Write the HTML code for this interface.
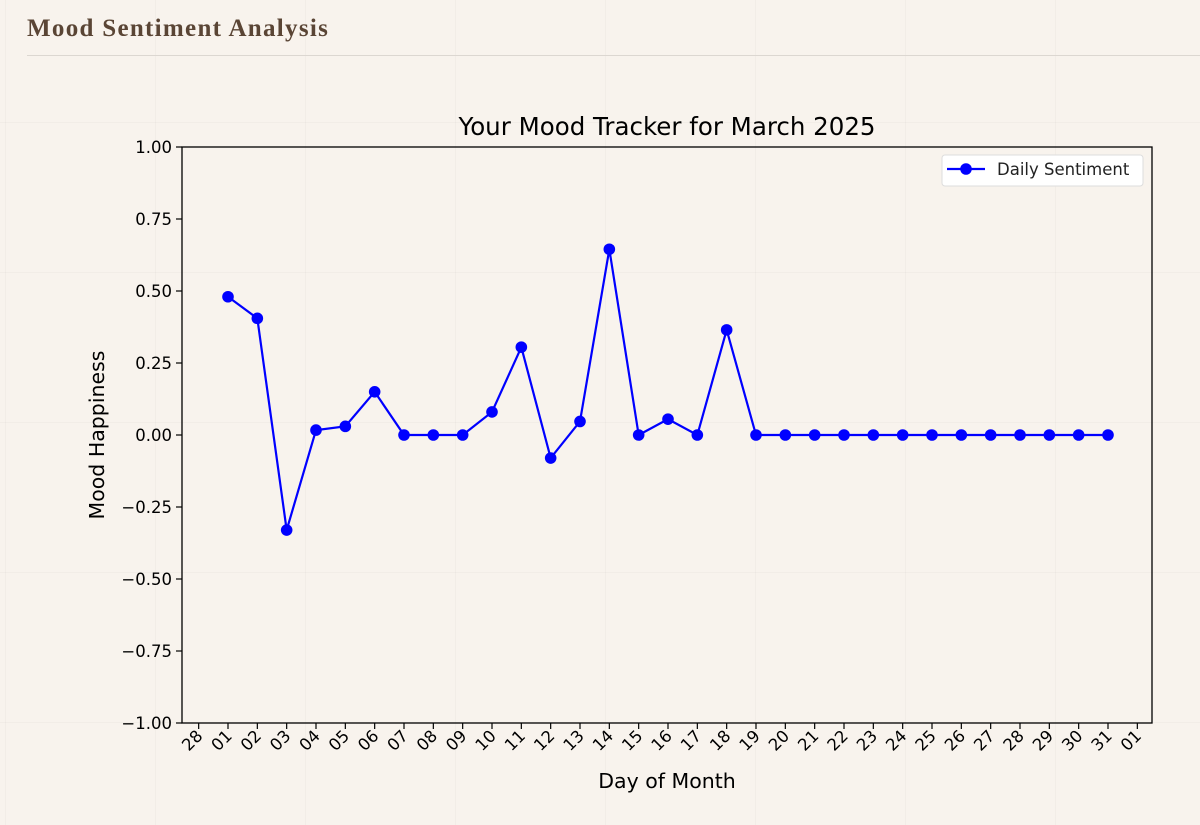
<!DOCTYPE html>
<html><head><meta charset="utf-8"><style>
html,body{margin:0;padding:0;width:1200px;height:825px;overflow:hidden;background:#f8f3ed;
background-image:linear-gradient(to right,rgba(0,0,0,0.025) 1px,transparent 1px),linear-gradient(to bottom,rgba(0,0,0,0.025) 1px,transparent 1px);
background-size:150px 150px;background-position:5px 122px;}
h1{position:absolute;left:27px;top:15px;margin:0;font-family:"Liberation Serif",serif;font-weight:bold;font-size:25px;letter-spacing:1.3px;color:#5a4535;}
.rule{position:absolute;left:27px;top:55px;width:1173px;height:1px;background:#dcd7d1;}
svg{position:absolute;left:0;top:0;font-family:"DejaVu Sans","Liberation Sans",sans-serif;}
</style></head><body>
<h1>Mood Sentiment Analysis</h1>
<div class="rule"></div>
<svg id="chart" width="1200" height="825"></svg>
<script>
const days=[1,2,3,4,5,6,7,8,9,10,11,12,13,14,15,16,17,18,19,20,21,22,23,24,25,26,27,28,29,30,31];
const sentiment=[0.48,0.405,-0.33,0.017,0.03,0.15,0,0,0,0.08,0.305,-0.08,0.047,0.645,0,0.055,0,0.365,0,0,0,0,0,0,0,0,0,0,0,0,0];
const xTickDays=[0,1,2,3,4,5,6,7,8,9,10,11,12,13,14,15,16,17,18,19,20,21,22,23,24,25,26,27,28,29,30,31,32];
const xTickLabels=["28","01","02","03","04","05","06","07","08","09","10","11","12","13","14","15","16","17","18","19","20","21","22","23","24","25","26","27","28","29","30","31","01"];
const yTicks=[1,0.75,0.5,0.25,0,-0.25,-0.5,-0.75,-1];
const yTickLabels=["1.00","0.75","0.50","0.25","0.00","\u22120.25","\u22120.50","\u22120.75","\u22121.00"];
const L=182,R=1152,T=147,B=723;
const x=d=>228+(d-1)*(1108-228)/30;
const y=v=>T+(1-v)/2*(B-T);
const svg=document.getElementById('chart');const NS='http://www.w3.org/2000/svg';
function mk(t,a,p){const e=document.createElementNS(NS,t);for(const k in a)e.setAttribute(k,a[k]);(p||svg).appendChild(e);return e;}
let e=mk('rect',{x:L,y:T,width:R-L,height:B-T,fill:'none',stroke:'#000','stroke-width':1.3});


yTicks.forEach((v,i)=>{
 mk('line',{x1:L-6,x2:L,y1:y(v),y2:y(v),stroke:'#000','stroke-width':1.2});
 const t=mk('text',{x:L-10,y:y(v)+6,'text-anchor':'end','font-size':16.5,fill:'#000'});t.textContent=yTickLabels[i];
 
 
});
xTickDays.forEach((d,i)=>{
 mk('line',{x1:x(d),x2:x(d),y1:B,y2:B+6,stroke:'#000','stroke-width':1.2});
 const t=mk('text',{x:x(d)+5,y:B+14,'text-anchor':'end','font-size':16.5,fill:'#000',transform:`rotate(-45 ${x(d)+5} ${B+14})`});t.textContent=xTickLabels[i];
 
 
});
let tt=mk('text',{x:667,y:135,'text-anchor':'middle','font-size':24.5,fill:'#000'});tt.textContent='Your Mood Tracker for March 2025';


tt=mk('text',{x:667,y:788,'text-anchor':'middle','font-size':20.5,fill:'#000'});tt.textContent='Day of Month';


tt=mk('text',{x:104,y:435,'text-anchor':'middle','font-size':20.5,fill:'#000',transform:'rotate(-90 104 435)'});tt.textContent='Mood Happiness';


const pts=days.map((d,i)=>x(d)+','+y(sentiment[i])).join(' ');
e=mk('polyline',{points:pts,fill:'none',stroke:'#0000ff','stroke-width':2.2});


days.forEach((d,i)=>{const c=mk('circle',{cx:x(d),cy:y(sentiment[i]),r:5.8,fill:'#0000ff'});
 
 });
const g=mk('g',{});


mk('rect',{x:942,y:155,width:201,height:31,rx:3,fill:'#fff',stroke:'#ddd'},g);
mk('line',{x1:947,x2:985,y1:169,y2:169,stroke:'#0000ff','stroke-width':2.2},g);
mk('circle',{cx:966,cy:169,r:5.8,fill:'#0000ff'},g);
const lt=mk('text',{x:997,y:175,'font-size':16.5,fill:'#222'},g);lt.textContent='Daily Sentiment';
</script>
</body></html>
